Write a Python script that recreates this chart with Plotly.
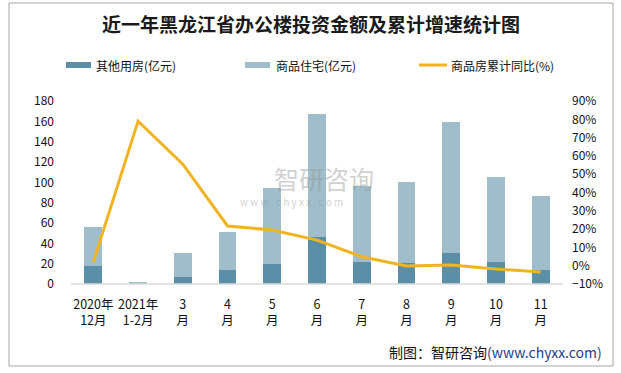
import plotly.graph_objects as go

categories = ["2020年<br>12月", "2021年<br>1-2月", "3<br>月", "4<br>月", "5<br>月", "6<br>月",
              "7<br>月", "8<br>月", "9<br>月", "10<br>月", "11<br>月"]
other_use = [17.7, 0.5, 7.0, 13.8, 19.6, 46.0, 21.6, 20.6, 30.5, 21.6, 13.8]
residential = [38.3, 1.0, 23.5, 37.2, 74.7, 121.0, 74.4, 79.4, 128.5, 83.4, 72.6]
yoy_pct = [2.0, 79.0, 55.5, 21.7, 19.5, 14.0, 4.9, -0.2, 0.4, -1.8, -3.4]

C_DARK = "#5b8fa7"
C_LIGHT = "#9fbdca"
C_LINE = "#f2b322"
FONT = "Noto Sans CJK SC"

W, H = 621, 373
L, R, T, B = 71, 58, 101, 89
PW, PH = W - L - R, H - T - B


def px(x):
    return (x - L) / PW


def py(y):
    return (H - B - y) / PH


fig = go.Figure()
fig.add_trace(go.Bar(x=categories, y=other_use, name="其他用房(亿元)",
                     marker=dict(color=C_DARK, line=dict(width=0)), width=0.4))
fig.add_trace(go.Bar(x=categories, y=residential, name="商品住宅(亿元)",
                     marker=dict(color=C_LIGHT, line=dict(width=0)), width=0.4))
fig.add_trace(go.Scatter(x=categories, y=yoy_pct, name="商品房累计同比(%)", yaxis="y2",
                         mode="lines", line=dict(color=C_LINE, width=3)))

shapes = [
    # frame
    dict(type="rect", xref="paper", yref="paper", x0=px(9), x1=px(613), y0=py(366), y1=py(3),
         line=dict(color="#a6a6a6", width=1), fillcolor="rgba(0,0,0,0)", layer="below"),
    # baseline
    dict(type="line", xref="paper", yref="paper", x0=0, x1=1, y0=0, y1=0,
         line=dict(color="#d9d9d9", width=1.5)),
    # legend keys
    dict(type="rect", xref="paper", yref="paper", x0=px(66), x1=px(91), y0=py(68), y1=py(62),
         fillcolor=C_DARK, line=dict(width=0)),
    dict(type="rect", xref="paper", yref="paper", x0=px(245), x1=px(270), y0=py(68), y1=py(62),
         fillcolor=C_LIGHT, line=dict(width=0)),
    dict(type="line", xref="paper", yref="paper", x0=px(419), x1=px(447), y0=py(65), y1=py(65),
         line=dict(color=C_LINE, width=3)),
]

annotations = [
    dict(text="<b>近一年黑龙江省办公楼投资金额及累计增速统计图</b>", xref="paper", yref="paper",
         x=px(311), y=py(23), xanchor="center", yanchor="middle", showarrow=False,
         font=dict(family=FONT, size=19, color="#1a1a1a")),
    dict(text="其他用房(亿元)", xref="paper", yref="paper", x=px(94), y=py(65),
         xanchor="left", yanchor="middle", showarrow=False, font=dict(family=FONT, size=12, color="#111")),
    dict(text="商品住宅(亿元)", xref="paper", yref="paper", x=px(274), y=py(65),
         xanchor="left", yanchor="middle", showarrow=False, font=dict(family=FONT, size=12, color="#111")),
    dict(text="商品房累计同比(%)", xref="paper", yref="paper", x=px(449), y=py(65),
         xanchor="left", yanchor="middle", showarrow=False, font=dict(family=FONT, size=12, color="#111")),
    dict(text='制图：智研咨询<span style="color:#1f3d8c">(www.chyxx.com)</span>', xref="paper", yref="paper",
         x=px(604), y=py(352), xanchor="right", yanchor="middle", showarrow=False,
         font=dict(family=FONT, size=14, color="#111")),
    # watermark
    dict(text="智研咨询", xref="paper", yref="paper", x=px(272), y=py(178),
         xanchor="left", yanchor="middle", showarrow=False,
         font=dict(family=FONT, size=25, color="rgba(150,150,150,0.45)")),
    dict(text="w w w . c h y x x . c o m", xref="paper", yref="paper", x=px(238), y=py(201),
         xanchor="left", yanchor="middle", showarrow=False,
         font=dict(family=FONT, size=10, color="rgba(150,150,150,0.45)")),
]

fig.update_layout(
    width=W, height=H,
    margin=dict(l=L, r=R, t=T, b=B, autoexpand=False),
    paper_bgcolor="white", plot_bgcolor="white",
    barmode="stack", bargap=0.6,
    showlegend=False,
    font=dict(family=FONT, size=12, color="#222"),
    xaxis=dict(showgrid=False, showline=False, ticks="", tickfont=dict(size=12.5, color="#111"),
               ticklabelstandoff=11),
    yaxis=dict(range=[0, 180], dtick=20, showgrid=False, showline=False, zeroline=False,
               ticks="", tickfont=dict(size=12, color="#111"), ticklabelstandoff=16),
    yaxis2=dict(range=[-10, 90], dtick=10, ticksuffix="%", overlaying="y", side="right",
                showgrid=False, showline=False, zeroline=False, ticks="",
                tickfont=dict(size=12, color="#111"), ticklabelstandoff=8),
    shapes=shapes,
    annotations=annotations,
)

fig.write_html("out.html", config={"displayModeBar": False},
               post_script="document.body.style.margin='0';")
